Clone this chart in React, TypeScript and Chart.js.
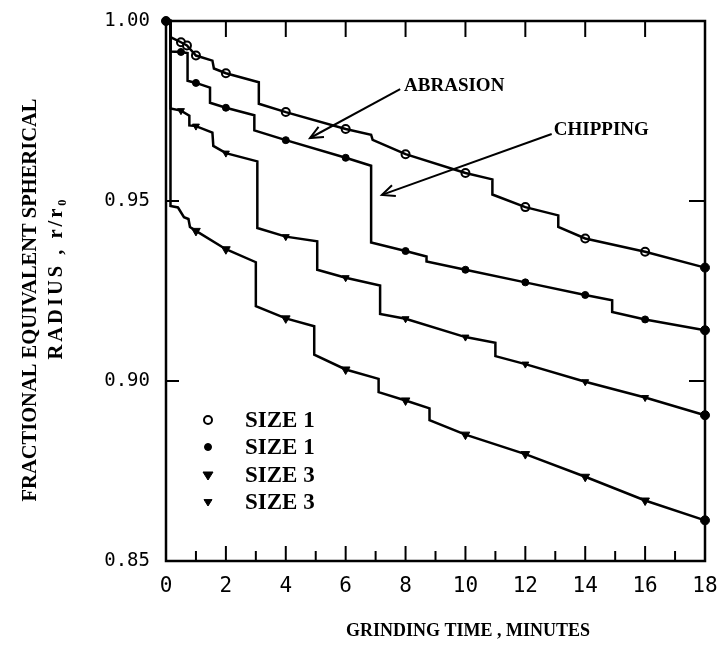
import React, { useEffect, useRef } from "react";
import { Chart, registerables } from "chart.js";

Chart.register(...registerables);

// ---------- data ----------
const seriesNames = ["SIZE 1", "SIZE 1", "SIZE 3", "SIZE 3"];
const xTickValues = [0, 2, 4, 6, 8, 10, 12, 14, 16, 18];
const yTickValues = [0.85, 0.9, 0.95, 1.0];

// stepped curves (grinding time, minutes  vs  r/r0)
const s1LineT = [0, 0.15, 0.15, 0.5, 0.7, 1.0, 1.55, 1.6, 2.0, 3.1, 3.1, 4.0, 6.0, 6.85, 6.9, 8.0, 10.0, 10.9, 10.9, 12.0, 13.1, 13.1, 14.0, 16.0, 18.0];
const s1LineR = [1.0, 1.0, 0.9955, 0.9941, 0.9932, 0.9904, 0.989, 0.9868, 0.9855, 0.983, 0.977, 0.9747, 0.970, 0.9684, 0.9670, 0.963, 0.9578, 0.956, 0.9518, 0.9483, 0.946, 0.9428, 0.9396, 0.9359, 0.9315];
const s1MarkT = [0.5, 0.7, 1, 2, 4, 6, 8, 10, 12, 14, 16];
const s1MarkR = [0.9941, 0.9932, 0.9904, 0.9855, 0.9747, 0.970, 0.963, 0.9578, 0.9483, 0.9396, 0.9359];

const s2LineT = [0, 0.15, 0.15, 0.5, 0.72, 0.72, 1.0, 1.47, 1.47, 2.0, 2.95, 2.95, 4.0, 6.0, 6.85, 6.85, 8.0, 8.7, 8.7, 10.0, 12.0, 14.0, 14.9, 14.9, 16.0, 18.0];
const s2LineR = [1.0, 1.0, 0.9915, 0.9914, 0.9911, 0.9834, 0.9828, 0.9815, 0.9773, 0.9759, 0.9738, 0.9696, 0.9669, 0.962, 0.9598, 0.9385, 0.9361, 0.9346, 0.9332, 0.9309, 0.9274, 0.9239, 0.9224, 0.9192, 0.9171, 0.9141];
const s2MarkT = [0.5, 1, 2, 4, 6, 8, 10, 12, 14, 16];
const s2MarkR = [0.9914, 0.9828, 0.9759, 0.9669, 0.962, 0.9361, 0.9309, 0.9274, 0.9239, 0.9171];

const s3LineT = [0, 0.15, 0.15, 0.5, 0.78, 0.78, 1.0, 1.55, 1.58, 2.0, 3.05, 3.05, 4.0, 5.05, 5.05, 6.0, 7.15, 7.15, 8.0, 10.0, 11.0, 11.0, 12.0, 14.0, 16.0, 18.0];
const s3LineR = [1.0, 1.0, 0.9757, 0.9751, 0.9737, 0.971, 0.9708, 0.969, 0.9653, 0.9633, 0.961, 0.9425, 0.9401, 0.9388, 0.9309, 0.9287, 0.9265, 0.9186, 0.9173, 0.9122, 0.9106, 0.9069, 0.9047, 0.8998, 0.8954, 0.8905];
const s3MarkT = [0.5, 1, 2, 4, 6, 8, 10, 12, 14, 16];
const s3MarkR = [0.9751, 0.9708, 0.9633, 0.9401, 0.9287, 0.9173, 0.9122, 0.9047, 0.8998, 0.8954];

const s4LineT = [0, 0.15, 0.15, 0.4, 0.6, 0.75, 0.8, 1.0, 2.0, 3.0, 3.0, 4.0, 4.95, 4.95, 6.0, 7.1, 7.1, 8.0, 8.8, 8.8, 10.0, 12.0, 14.0, 16.0, 18.0];
const s4LineR = [1.0, 1.0, 0.9486, 0.9482, 0.9455, 0.945, 0.9428, 0.9417, 0.9366, 0.933, 0.9208, 0.9174, 0.9152, 0.9073, 0.9032, 0.9006, 0.8969, 0.8946, 0.8924, 0.8891, 0.8851, 0.8797, 0.8734, 0.8668, 0.8613];
const s4MarkT = [1, 2, 4, 6, 8, 10, 12, 14, 16];
const s4MarkR = [0.9417, 0.9366, 0.9174, 0.9032, 0.8946, 0.8851, 0.8797, 0.8734, 0.8668];

// annotations (data coordinates)
const abrasionText = { t: 7.95, r: 0.9819, label: "ABRASION" };
const abrasionArrow = { fromT: 7.82, fromR: 0.9811, toT: 4.81, toR: 0.9675 };
const chippingText = { t: 12.95, r: 0.9697, label: "CHIPPING" };
const chippingArrow = { fromT: 12.88, fromR: 0.9686, toT: 7.21, toR: 0.9517 };

const xTitle = "GRINDING TIME , MINUTES";
const yTitle1 = "FRACTIONAL EQUIVALENT SPHERICAL";
const yTitle2 = "RADIUS , r/r\u2080";

// ---------- helpers ----------
const zip = (t: number[], r: number[]) => t.map((v, i) => ({ x: v, y: r[i] }));

type MarkStyle = { style: string; radius: number; fill: string; rot: number; bw: number };
const markStyles: MarkStyle[] = [
  { style: "circle", radius: 4, fill: "#ffffff", rot: 0, bw: 2 },
  { style: "circle", radius: 3.5, fill: "#000000", rot: 0, bw: 1 },
  { style: "triangle", radius: 4, fill: "#000000", rot: 180, bw: 1 },
  { style: "triangle", radius: 5, fill: "#000000", rot: 180, bw: 1 },
];
const legendOrder = [0, 1, 3, 2];

const lines = [
  [s1LineT, s1LineR],
  [s2LineT, s2LineR],
  [s3LineT, s3LineR],
  [s4LineT, s4LineR],
];
const marks = [
  [s1MarkT, s1MarkR],
  [s2MarkT, s2MarkR],
  [s3MarkT, s3MarkR],
  [s4MarkT, s4MarkR],
];

const SERIF = '"Liberation Serif", "DejaVu Serif", serif';
const MONO = '"DejaVu Sans Mono", monospace';

function drawMarker(ctx: CanvasRenderingContext2D, m: MarkStyle, x: number, y: number) {
  ctx.save();
  ctx.fillStyle = m.fill;
  ctx.strokeStyle = "#000";
  ctx.lineWidth = m.bw;
  ctx.beginPath();
  if (m.style === "circle") {
    ctx.arc(x, y, m.radius, 0, Math.PI * 2);
  } else {
    const r = m.radius;
    ctx.moveTo(x - r, y - r * 0.6);
    ctx.lineTo(x + r, y - r * 0.6);
    ctx.lineTo(x, y + r);
    ctx.closePath();
  }
  ctx.fill();
  ctx.stroke();
  ctx.restore();
}

function arrow(ctx: CanvasRenderingContext2D, x1: number, y1: number, x2: number, y2: number) {
  ctx.beginPath();
  ctx.moveTo(x1, y1);
  ctx.lineTo(x2, y2);
  ctx.stroke();
  const ang = Math.atan2(y2 - y1, x2 - x1);
  const L = 14;
  const w = 0.42;
  ctx.beginPath();
  ctx.moveTo(x2 - L * Math.cos(ang - w), y2 - L * Math.sin(ang - w));
  ctx.lineTo(x2, y2);
  ctx.lineTo(x2 - L * Math.cos(ang + w), y2 - L * Math.sin(ang + w));
  ctx.stroke();
}

const decor = {
  id: "decor",
  afterDatasetsDraw(chart: any) {
    const { ctx, chartArea: a, scales } = chart;
    const xs = scales.x;
    const ys = scales.y;
    ctx.save();
    ctx.strokeStyle = "#000";
    ctx.fillStyle = "#000";
    ctx.lineCap = "butt";
    // frame
    ctx.lineWidth = 2.5;
    ctx.strokeRect(a.left, a.top, a.right - a.left, a.bottom - a.top);
    // bottom ticks (inward)
    ctx.lineWidth = 2;
    for (let t = 1; t < 18; t++) {
      const px = xs.getPixelForValue(t);
      const len = t % 2 === 0 ? 15 : 10;
      ctx.beginPath();
      ctx.moveTo(px, a.bottom);
      ctx.lineTo(px, a.bottom - len);
      ctx.stroke();
    }
    // top ticks
    for (let t = 2; t < 18; t += 2) {
      const px = xs.getPixelForValue(t);
      ctx.beginPath();
      ctx.moveTo(px, a.top);
      ctx.lineTo(px, a.top + 16);
      ctx.stroke();
    }
    // left / right ticks
    for (const v of yTickValues) {
      if (v <= 0.851 || v >= 0.999) continue;
      const py = ys.getPixelForValue(v);
      ctx.beginPath();
      ctx.moveTo(a.left, py);
      ctx.lineTo(a.left + 13, py);
      ctx.moveTo(a.right, py);
      ctx.lineTo(a.right - 16, py);
      ctx.stroke();
    }
    // start dot
    drawMarker(ctx, { style: "circle", radius: 4.5, fill: "#000", rot: 0, bw: 1 }, xs.getPixelForValue(0), ys.getPixelForValue(1.0));

    // legend
    ctx.font = `bold 23px ${SERIF}`;
    ctx.textBaseline = "middle";
    ctx.textAlign = "left";
    const legY = [420, 447, 475, 502];
    legendOrder.forEach((si, k) => {
      drawMarker(ctx, markStyles[si], 208, legY[k]);
      ctx.fillText(seriesNames[si], 245, legY[k] + 1);
    });

    // annotations
    ctx.lineWidth = 2;
    ctx.font = `bold 19px ${SERIF}`;
    ctx.fillText(abrasionText.label, xs.getPixelForValue(abrasionText.t), ys.getPixelForValue(abrasionText.r));
    arrow(ctx, xs.getPixelForValue(abrasionArrow.fromT), ys.getPixelForValue(abrasionArrow.fromR), xs.getPixelForValue(abrasionArrow.toT), ys.getPixelForValue(abrasionArrow.toR));
    ctx.fillText(chippingText.label, xs.getPixelForValue(chippingText.t), ys.getPixelForValue(chippingText.r));
    arrow(ctx, xs.getPixelForValue(chippingArrow.fromT), ys.getPixelForValue(chippingArrow.fromR), xs.getPixelForValue(chippingArrow.toT), ys.getPixelForValue(chippingArrow.toR));

    // axis titles
    ctx.textAlign = "center";
    ctx.font = `bold 18px ${SERIF}`;
    (ctx as any).letterSpacing = "0px";
    ctx.fillText(xTitle, 468, 631);
    ctx.save();
    ctx.translate(31, 300);
    ctx.rotate(-Math.PI / 2);
    ctx.font = `bold 20.5px ${SERIF}`;
    (ctx as any).letterSpacing = "0px";
    ctx.fillText(yTitle1, 0, 0);
    ctx.restore();
    ctx.save();
    ctx.translate(57, 278);
    ctx.rotate(-Math.PI / 2);
    ctx.font = `bold 20.5px ${SERIF}`;
    (ctx as any).letterSpacing = "3px";
    ctx.fillText(yTitle2, 0, 0);
    ctx.restore();
    ctx.restore();
  },
};

export default function App() {
  const ref = useRef<HTMLCanvasElement>(null);
  useEffect(() => {
    const datasets: any[] = [];
    lines.forEach(([t, r]) => {
      datasets.push({
        data: zip(t, r),
        showLine: true,
        borderColor: "#000",
        borderWidth: 2.5,
        pointRadius: 0,
        tension: 0,
        clip: false,
      });
    });
    marks.forEach(([t, r], i) => {
      const m = markStyles[i];
      datasets.push({
        data: zip(t, r),
        showLine: false,
        pointStyle: m.style,
        pointRadius: m.radius,
        pointRotation: m.rot,
        backgroundColor: m.fill,
        borderColor: "#000",
        pointBorderWidth: m.bw,
        clip: false,
      });
    });
    // end points at 18 minutes, taken from the last value of each curve
    datasets.push({
      data: lines.map(([t, r]) => ({ x: t[t.length - 1], y: r[r.length - 1] })),
      showLine: false,
      pointStyle: "circle",
      pointRadius: 4.5,
      backgroundColor: "#000",
      borderColor: "#000",
      clip: false,
    });

    const chart = new Chart(ref.current as HTMLCanvasElement, {
      type: "scatter",
      data: { datasets },
      options: {
        animation: false,
        responsive: false,
        events: [],
        layout: { padding: { top: 21, right: 15, left: 0, bottom: 0 } },
        plugins: { legend: { display: false }, tooltip: { enabled: false } },
        scales: {
          x: {
            type: "linear",
            min: 0,
            max: 18,
            afterFit: (s: any) => {
              s.height = 100;
              s.paddingLeft = 0;
              s.paddingRight = 0;
            },
            afterBuildTicks: (s: any) => {
              s.ticks = xTickValues.map((v) => ({ value: v }));
            },
            grid: { display: false, drawTicks: false },
            border: { display: false },
            ticks: {
              color: "#000",
              font: { family: MONO, size: 21 },
              padding: 13,
              maxRotation: 0,
              autoSkip: false,
              callback: (v: any) => String(v),
            },
          },
          y: {
            type: "linear",
            min: 0.85,
            max: 1.0,
            afterFit: (s: any) => {
              s.width = 166;
              s.paddingTop = 0;
              s.paddingBottom = 0;
            },
            afterBuildTicks: (s: any) => {
              s.ticks = yTickValues.map((v) => ({ value: v }));
            },
            grid: { display: false, drawTicks: false },
            border: { display: false },
            ticks: {
              color: "#000",
              font: { family: MONO, size: 19 },
              padding: 16,
              callback: (v: any) => Number(v).toFixed(2),
            },
          },
        },
      },
      plugins: [decor],
    } as any);
    return () => chart.destroy();
  }, []);
  return (
    <div style={{ position: "fixed", left: 0, top: 0, width: 720, height: 661, background: "#fff" }}>
      <canvas ref={ref} width={720} height={661} style={{ width: 720, height: 661 }} />
    </div>
  );
}
